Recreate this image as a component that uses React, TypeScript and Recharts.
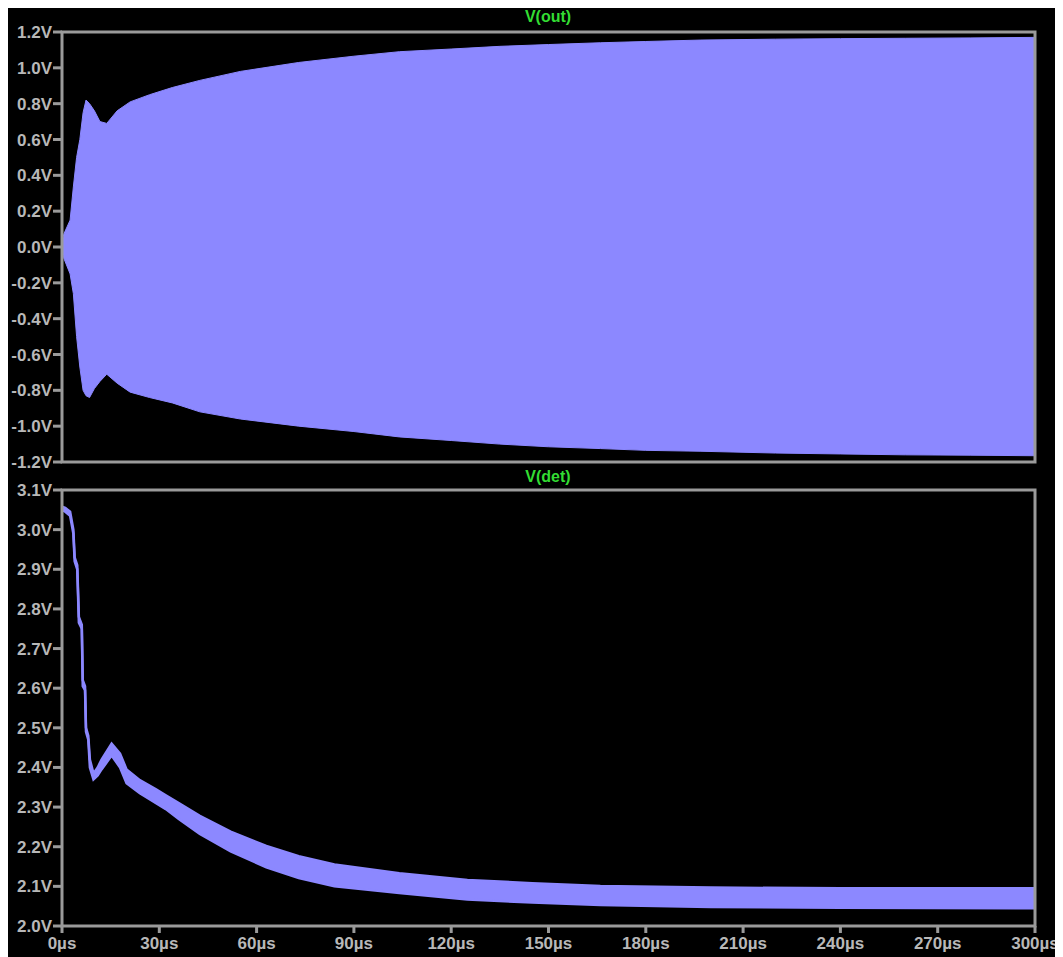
import { AreaChart, Area, XAxis, YAxis, ReferenceArea } from "recharts";

// V(out) envelope (µs, V)
const outTimes = [0, 0.5, 2.5, 3.5, 4.5, 5.5, 6.5, 7.4, 8.5, 10, 11.7, 13.8, 17, 21, 27, 34, 42.5, 55, 73, 90, 104, 120, 135, 150, 166, 180, 197, 220, 240, 260, 280, 300];
const outUpper = [0.02, 0.07, 0.15, 0.335, 0.5, 0.6, 0.75, 0.82, 0.8, 0.76, 0.7, 0.69, 0.76, 0.81, 0.85, 0.89, 0.93, 0.98, 1.03, 1.065, 1.09, 1.105, 1.12, 1.13, 1.14, 1.147, 1.155, 1.16, 1.163, 1.165, 1.167, 1.17];
const outLower = [-0.02, -0.06, -0.15, -0.26, -0.5, -0.67, -0.8, -0.83, -0.84, -0.79, -0.75, -0.71, -0.76, -0.81, -0.84, -0.87, -0.92, -0.96, -1.0, -1.03, -1.06, -1.08, -1.1, -1.115, -1.125, -1.135, -1.14, -1.15, -1.155, -1.16, -1.162, -1.165];

// V(det) band
const detTimes = [0, 1, 2.5, 3.5, 3.9, 4.7, 5.2, 6.1, 6.4, 7.1, 7.4, 8.1, 8.6, 9.7, 11, 12.2, 15.3, 17.9, 19.9, 24, 29, 32, 36, 42.5, 52, 63, 73, 84, 104, 125, 145, 166, 200, 240, 300];
const detUpper = [3.058, 3.055, 3.045, 3.0, 2.93, 2.91, 2.78, 2.76, 2.62, 2.605, 2.5, 2.48, 2.42, 2.385, 2.4, 2.42, 2.46, 2.435, 2.395, 2.368, 2.345, 2.33, 2.31, 2.278, 2.238, 2.202, 2.176, 2.155, 2.133, 2.116, 2.108, 2.101, 2.097, 2.095, 2.095];
const detLower = [3.05, 3.045, 3.035, 2.99, 2.92, 2.9, 2.765, 2.75, 2.605, 2.595, 2.49, 2.47, 2.4, 2.37, 2.38, 2.395, 2.43, 2.4, 2.36, 2.335, 2.31, 2.295, 2.27, 2.232, 2.188, 2.148, 2.121, 2.1, 2.083, 2.067, 2.059, 2.053, 2.048, 2.046, 2.045];

const timeTicks = [0, 30, 60, 90, 120, 150, 180, 210, 240, 270, 300];
const outTicks = [-1.2, -1.0, -0.8, -0.6, -0.4, -0.2, 0, 0.2, 0.4, 0.6, 0.8, 1.0, 1.2];
const detTicks = [2.0, 2.1, 2.2, 2.3, 2.4, 2.5, 2.6, 2.7, 2.8, 2.9, 3.0, 3.1];

const outData = outTimes.map((t, i) => ({ t, lo: outLower[i], hi: outUpper[i] }));
const detData = detTimes.map((t, i) => ({ t, lo: detLower[i], hi: detUpper[i] }));

const TRACE = "#8c88ff";
const FRAME = "#9a9a9a";
const tickStyle = { fill: "#b8b8b8", fontSize: 17, fontWeight: "bold", fontFamily: "Liberation Sans, Arial, sans-serif" };
const titleStyle: React.CSSProperties = {
  position: "absolute",
  width: 120,
  textAlign: "center",
  color: "#33dd33",
  fontFamily: "Liberation Sans, Arial, sans-serif",
  fontWeight: "bold",
  fontSize: 16,
  lineHeight: "18px",
};

const fmtV = (v: number) => `${v.toFixed(1)}V`;

export default function App() {
  return (
    <div style={{ position: "relative", width: 1055, height: 949, background: "#000" }}>
      <div style={{ ...titleStyle, left: 480, top: 0 }}>V(out)</div>
      <div style={{ position: "absolute", left: 0, top: 0 }}>
        <AreaChart width={1055} height={472} data={outData} margin={{ top: 24, right: 28, bottom: 18, left: 0 }}>
          <XAxis dataKey="t" type="number" domain={[0, 300]} ticks={timeTicks} hide />
          <YAxis
            type="number"
            domain={[-1.2, 1.2]}
            ticks={outTicks}
            width={54}
            axisLine={false}
            tickLine={{ stroke: FRAME, strokeWidth: 3 }}
            tickSize={9}
            tickMargin={1}
            tick={tickStyle}
            tickFormatter={fmtV}
            interval={0}
          />
          <Area
            type="linear"
            dataKey={(d: { lo: number; hi: number }) => [d.lo, d.hi]}
            stroke={TRACE}
            strokeWidth={1}
            fill={TRACE}
            fillOpacity={1}
            isAnimationActive={false}
            dot={false}
            activeDot={false}
          />
          <ReferenceArea x1={0} x2={300} y1={-1.2} y2={1.2} fill="none" stroke={FRAME} strokeWidth={3} />
        </AreaChart>
      </div>
      <div style={{ ...titleStyle, left: 480, top: 460 }}>V(det)</div>
      <div style={{ position: "absolute", left: 0, top: 462 }}>
        <AreaChart width={1055} height={487} data={detData} margin={{ top: 20, right: 28, bottom: 0, left: 0 }}>
          <XAxis
            dataKey="t"
            type="number"
            domain={[0, 300]}
            ticks={timeTicks}
            height={31}
            axisLine={false}
            tickLine={{ stroke: FRAME, strokeWidth: 3 }}
            tickSize={7}
            tickMargin={4}
            tick={tickStyle}
            tickFormatter={(v: number) => `${v}µs`}
            interval={0}
          />
          <YAxis
            type="number"
            domain={[2.0, 3.1]}
            ticks={detTicks}
            width={54}
            axisLine={false}
            tickLine={{ stroke: FRAME, strokeWidth: 3 }}
            tickSize={9}
            tickMargin={1}
            tick={tickStyle}
            tickFormatter={fmtV}
            interval={0}
          />
          <Area
            type="linear"
            dataKey={(d: { lo: number; hi: number }) => [d.lo, d.hi]}
            stroke={TRACE}
            strokeWidth={2.5}
            fill={TRACE}
            fillOpacity={1}
            isAnimationActive={false}
            dot={false}
            activeDot={false}
          />
          <ReferenceArea x1={0} x2={300} y1={2.0} y2={3.1} fill="none" stroke={FRAME} strokeWidth={3} />
        </AreaChart>
      </div>
    </div>
  );
}
